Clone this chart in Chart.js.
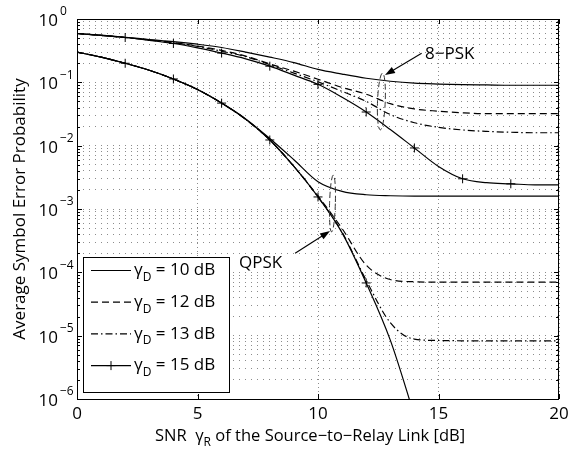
<!DOCTYPE html>
<html lang="en">
<head>
<meta charset="UTF-8">
<title>Average Symbol Error Probability</title>
<script src="https://cdn.jsdelivr.net/npm/chart.js"></script>
<style>
  html, body { margin: 0; padding: 0; background: #fff; }
  body { width: 588px; height: 452px; overflow: hidden; }
  canvas { display: block; }
</style>
</head>
<body>
<canvas id="serChart" width="588" height="452"></canvas>
<script>
// SNR of the source-to-relay link [dB]
const snrR = [0, 1, 2, 3, 4, 5, 6, 7, 8, 9, 10, 11, 12, 13, 14, 15, 16, 17, 18, 19, 20];

// 8-PSK, one array per gamma_D
const psk8_g10 = [0.59, 0.555, 0.515, 0.475, 0.44, 0.40, 0.355, 0.30, 0.25, 0.205, 0.16, 0.135, 0.116, 0.104, 0.097, 0.094, 0.092, 0.091, 0.09, 0.09, 0.09];
const psk8_g12 = [0.59, 0.55, 0.51, 0.47, 0.425, 0.375, 0.32, 0.26, 0.195, 0.15, 0.112, 0.083, 0.065, 0.046, 0.038, 0.035, 0.033, 0.032, 0.032, 0.032, 0.032];
const psk8_g13 = [0.59, 0.55, 0.51, 0.465, 0.42, 0.37, 0.31, 0.255, 0.19, 0.14, 0.102, 0.072, 0.05, 0.031, 0.023, 0.0195, 0.0177, 0.0168, 0.0163, 0.016, 0.016];
const psk8_g15 = [0.59, 0.55, 0.51, 0.46, 0.41, 0.35, 0.29, 0.235, 0.18, 0.13, 0.093, 0.058, 0.034, 0.018, 0.0092, 0.0047, 0.003, 0.0026, 0.0025, 0.0024, 0.0024];

// QPSK
const qpsk_g10 = [0.30, 0.25, 0.20, 0.155, 0.113, 0.077, 0.047, 0.0265, 0.013, 0.006, 0.0027, 0.0019, 0.00168, 0.00162, 0.0016, 0.0016, 0.0016, 0.0016, 0.0016, 0.0016, 0.0016];
const qpsk_g12 = [0.30, 0.25, 0.20, 0.155, 0.113, 0.077, 0.047, 0.026, 0.0123, 0.0047, 0.0016, 0.00049, 0.00013, 0.000077, 0.000071, 0.00007, 0.00007, 0.00007, 0.00007, 0.00007, 0.00007];
const qpsk_g13 = [0.30, 0.25, 0.20, 0.155, 0.113, 0.077, 0.047, 0.026, 0.0123, 0.0047, 0.00155, 0.00043, 0.000075, 0.000016, 0.0000088, 0.0000084, 0.0000083, 0.0000083, 0.0000083, 0.0000083, 0.0000083];
const qpsk_g15 = [0.30, 0.25, 0.20, 0.155, 0.113, 0.077, 0.047, 0.026, 0.0123, 0.0047, 0.00155, 0.00042, 0.000068, 0.0000085, 0.00000055, null, null, null, null, null, null];

// ticks
const xTicks = [0, 5, 10, 15, 20];
const yTickExps = [0, -1, -2, -3, -4, -5, -6];
const legendDb = ['10', '12', '13', '15'];

const FONT = '"Open Sans", "DejaVu Sans", sans-serif';

// y grid: 1..9 x 10^e
const yGrid = [];
for (let e = -6; e < 0; e++) {
  for (let m = 1; m < 10; m++) yGrid.push(m * Math.pow(10, e));
}
yGrid.push(1);

const styles = [
  { dash: [], marker: false },
  { dash: [7, 4], marker: false },
  { dash: [7, 3, 1.5, 3], marker: false },
  { dash: [], marker: true }
];

function toPoints(arr) {
  return snrR.map((v, i) => ({ x: v, y: arr[i] }));
}

function makeSet(label, arr, st) {
  return {
    label: label,
    data: toPoints(arr),
    borderColor: '#000',
    backgroundColor: '#000',
    borderWidth: 1.2,
    borderDash: st.dash,
    cubicInterpolationMode: 'monotone',
    pointStyle: 'cross',
    pointBorderWidth: 1,
    pointRadius: st.marker ? (c => (c.raw && c.raw.x % 2 === 0 && c.raw.x > 0 && c.raw.x < 20) ? 4.5 : 0) : 0,
    pointHoverRadius: 0,
    fill: false
  };
}

// notes in data units
const notes = [
  { text: '8\u2212PSK', x: 14.44, y: 0.277, tail: [14.3, 0.287], tip: [12.78, 0.13] },
  { text: 'QPSK', x: 6.72, y: 0.00014, tail: [9.05, 0.0002], tip: [10.5, 0.00045] }
];
const ovals = [
  { x: 12.63, half: 0.16, top: 0.14, bottom: 0.0177, rot: 0.04 },
  { x: 10.6, half: 0.12, top: 0.00344, bottom: 0.000434, rot: 0.03 }
];

function drawArrow(ctx, x1, y1, x2, y2) {
  const ang = Math.atan2(y2 - y1, x2 - x1);
  const hl = 10, hw = 3.5;
  ctx.beginPath();
  ctx.moveTo(x1, y1);
  ctx.lineTo(x2 - Math.cos(ang) * hl * 0.8, y2 - Math.sin(ang) * hl * 0.8);
  ctx.stroke();
  ctx.beginPath();
  ctx.moveTo(x2, y2);
  ctx.lineTo(x2 - Math.cos(ang) * hl - Math.sin(ang) * hw, y2 - Math.sin(ang) * hl + Math.cos(ang) * hw);
  ctx.lineTo(x2 - Math.cos(ang) * hl + Math.sin(ang) * hw, y2 - Math.sin(ang) * hl - Math.cos(ang) * hw);
  ctx.closePath();
  ctx.fill();
}

// text with a subscript part: parts = [[text, isSub], ...]
function richWidth(ctx, parts, size, subSize) {
  let w = 0;
  parts.forEach(p => {
    ctx.font = (p[1] ? subSize : size) + 'px ' + FONT;
    w += ctx.measureText(p[0]).width;
  });
  return w;
}
function drawRich(ctx, parts, x, y, size, subSize, subDy) {
  ctx.textAlign = 'left';
  parts.forEach(p => {
    ctx.font = (p[1] ? subSize : size) + 'px ' + FONT;
    ctx.fillText(p[0], x, p[1] ? y + subDy : y);
    x += ctx.measureText(p[0]).width;
  });
}

const decor = {
  id: 'decor',
  afterDatasetsDraw(chart) {
    const { ctx, chartArea: a, scales } = chart;
    const xs = scales.x, ys = scales.y;
    ctx.save();
    ctx.fillStyle = '#000';
    ctx.strokeStyle = '#000';
    ctx.textBaseline = 'middle';

    // ovals
    ctx.lineWidth = 1;
    ctx.strokeStyle = '#333';
    ctx.setLineDash([6, 3]);
    ovals.forEach(o => {
      const cx = xs.getPixelForValue(o.x);
      const t = ys.getPixelForValue(o.top), b = ys.getPixelForValue(o.bottom);
      const rx = xs.getPixelForValue(o.x + o.half) - cx;
      ctx.beginPath();
      ctx.ellipse(cx, (t + b) / 2, rx, (b - t) / 2, o.rot, 0, Math.PI * 2);
      ctx.stroke();
    });
    ctx.setLineDash([]);
    ctx.strokeStyle = '#000';

    // notes and arrows
    ctx.lineWidth = 1.1;
    notes.forEach(n => {
      ctx.font = '17px ' + FONT;
      ctx.textAlign = 'left';
      ctx.fillText(n.text, xs.getPixelForValue(n.x), ys.getPixelForValue(n.y));
      drawArrow(ctx, xs.getPixelForValue(n.tail[0]), ys.getPixelForValue(n.tail[1]),
        xs.getPixelForValue(n.tip[0]), ys.getPixelForValue(n.tip[1]));
    });

    // legend box
    const lw = 146, lh = 135;
    const lx = a.left + 6, ly = a.bottom - 7 - lh;
    ctx.fillStyle = '#fff';
    ctx.fillRect(lx, ly, lw, lh);
    ctx.fillStyle = '#000';
    ctx.lineWidth = 1;
    ctx.strokeRect(lx + 0.5, ly + 0.5, lw, lh);
    legendDb.forEach((db, i) => {
      const ry = ly + 13.5 + i * 31.7;
      const st = styles[i];
      ctx.lineWidth = 1.2;
      ctx.setLineDash(st.dash);
      ctx.beginPath();
      ctx.moveTo(lx + 8, ry);
      ctx.lineTo(lx + 48, ry);
      ctx.stroke();
      ctx.setLineDash([]);
      if (st.marker) {
        ctx.lineWidth = 1;
        ctx.beginPath();
        ctx.moveTo(lx + 28 - 4.5, ry); ctx.lineTo(lx + 28 + 4.5, ry);
        ctx.moveTo(lx + 28, ry - 4.5); ctx.lineTo(lx + 28, ry + 4.5);
        ctx.stroke();
      }
      drawRich(ctx, [['\u03b3', false], ['D', true], [' = ' + db + ' dB', false]], lx + 51, ry, 17, 12, 7);
    });

    // box
    ctx.lineWidth = 1;
    ctx.strokeRect(a.left + 0.5, a.top + 0.5, a.right - a.left - 1, a.bottom - a.top);

    // inward ticks
    ctx.beginPath();
    xTicks.forEach(v => {
      const px = Math.round(xs.getPixelForValue(v)) + 0.5;
      ctx.moveTo(px, a.bottom); ctx.lineTo(px, a.bottom - 5);
      ctx.moveTo(px, a.top); ctx.lineTo(px, a.top + 5);
    });
    yGrid.forEach(v => {
      const py = Math.round(ys.getPixelForValue(v)) + 0.5;
      const major = Math.abs(Math.log10(v) - Math.round(Math.log10(v))) < 1e-9;
      const len = major ? 5 : 3;
      ctx.moveTo(a.left, py); ctx.lineTo(a.left + len, py);
      ctx.moveTo(a.right, py); ctx.lineTo(a.right - len, py);
    });
    ctx.stroke();

    // x tick labels
    ctx.font = '17px ' + FONT;
    ctx.textAlign = 'center';
    xTicks.forEach(v => {
      ctx.fillText(String(v), xs.getPixelForValue(v), a.bottom + 15);
    });

    // y tick labels 10^e
    yTickExps.forEach(e => {
      const py = ys.getPixelForValue(Math.pow(10, e));
      ctx.font = '17px ' + FONT;
      ctx.textAlign = 'right';
      ctx.fillText('10', 58, py + 2);
      ctx.font = '12px ' + FONT;
      ctx.textAlign = 'left';
      ctx.fillText(e === 0 ? '0' : '\u2212' + Math.abs(e), 60, py - 7);
    });

    // x title
    const xt = [['SNR  \u03b3', false], ['R', true], [' of the Source\u2212to\u2212Relay Link [dB]', false]];
    const w = richWidth(ctx, xt, 16.5, 12);
    drawRich(ctx, xt, (a.left + a.right) / 2 - 8 - w / 2, a.bottom + 37, 16.5, 12, 7);

    // y title
    ctx.save();
    ctx.translate(20, (a.top + a.bottom) / 2);
    ctx.rotate(-Math.PI / 2);
    ctx.font = '17px ' + FONT;
    ctx.textAlign = 'center';
    ctx.fillText('Average Symbol Error Probability', 0, 0);
    ctx.restore();

    ctx.restore();
  }
};

const gridColor = 'rgba(0,0,0,0.45)';

new Chart(document.getElementById('serChart'), {
  type: 'line',
  data: {
    datasets: [
      makeSet('8-PSK, \u03b3D = 10 dB', psk8_g10, styles[0]),
      makeSet('8-PSK, \u03b3D = 12 dB', psk8_g12, styles[1]),
      makeSet('8-PSK, \u03b3D = 13 dB', psk8_g13, styles[2]),
      makeSet('8-PSK, \u03b3D = 15 dB', psk8_g15, styles[3]),
      makeSet('QPSK, \u03b3D = 10 dB', qpsk_g10, styles[0]),
      makeSet('QPSK, \u03b3D = 12 dB', qpsk_g12, styles[1]),
      makeSet('QPSK, \u03b3D = 13 dB', qpsk_g13, styles[2]),
      makeSet('QPSK, \u03b3D = 15 dB', qpsk_g15, styles[3])
    ]
  },
  options: {
    responsive: false,
    animation: false,
    layout: { padding: { left: 0, top: 19, right: 29, bottom: 0 } },
    plugins: {
      legend: { display: false },
      tooltip: { enabled: false }
    },
    scales: {
      x: {
        type: 'linear',
        min: 0,
        max: 20,
        afterFit: s => { s.height = 53; },
        afterBuildTicks: s => { s.ticks = xTicks.map(v => ({ value: v })); },
        ticks: { display: false },
        grid: { color: gridColor, lineWidth: 1, drawTicks: false },
        border: { display: false, dash: [1, 3] }
      },
      y: {
        type: 'logarithmic',
        min: 1e-6,
        max: 1,
        afterFit: s => { s.width = 77; },
        afterBuildTicks: s => { s.ticks = yGrid.map(v => ({ value: v })); },
        ticks: { display: false, autoSkip: false },
        grid: { color: gridColor, lineWidth: 1, drawTicks: false },
        border: { display: false, dash: [1, 5] }
      }
    }
  },
  plugins: [decor]
});
</script>
</body>
</html>
